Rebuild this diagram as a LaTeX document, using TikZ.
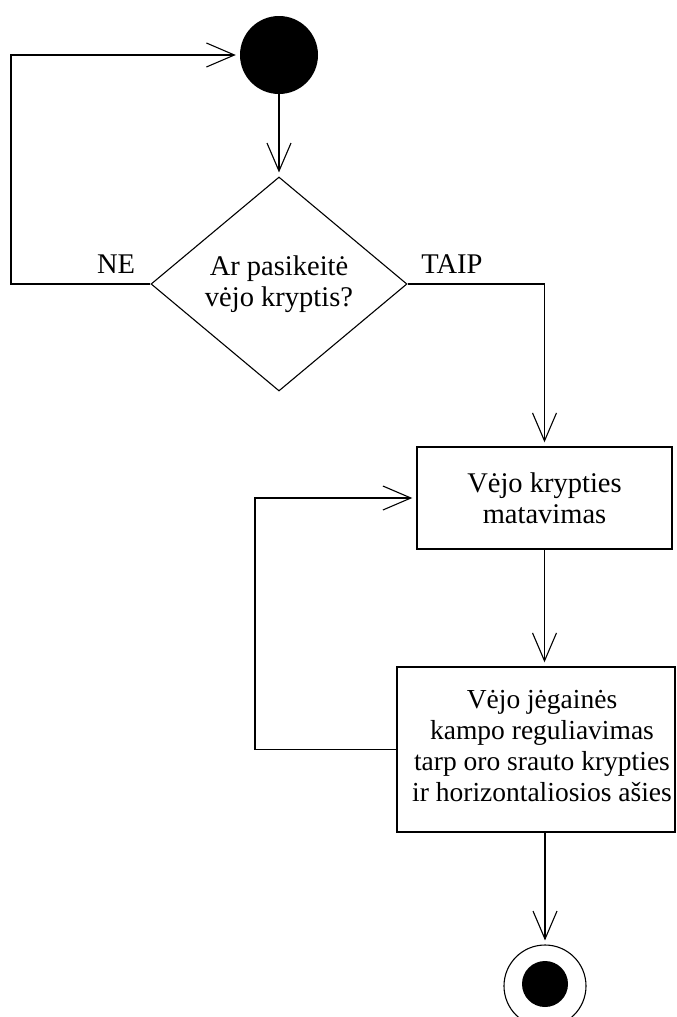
\documentclass[tikz,border=0pt]{standalone}
\usepackage{fontspec}
\setmainfont{Liberation Serif}
\usetikzlibrary{arrows.meta,shapes.geometric}

\begin{document}
\begin{tikzpicture}[x=1pt,y=-1pt,
  every node/.style={font=\fontsize{28.5}{31}\selectfont},
  flow/.style={line width=1.4pt,
    -{Straight Barb[length=28pt,width=24pt,line width=1.1pt]},
    shorten >=4pt},
  box/.style={draw, line width=1.4pt, inner sep=0pt, align=center},
  lbl/.style={anchor=base, inner sep=0pt}]

% page frame
\fill[white] (0,0) rectangle (677,1017);
\useasboundingbox (0,0) rectangle (677,1017);

% start state
\node[circle, fill=black, minimum size=78pt, inner sep=0pt] (start) at (279,55) {};

% decision
\node[diamond, draw, line width=1.1pt, minimum width=256pt, minimum height=214pt,
      inner sep=0pt, align=center] (dec) at (279,284) {Ar pasikeitė\\vėjo kryptis?};

% activities
\node[box, minimum width=255pt, minimum height=102pt] (meas) at (544.5,498)
  {Vėjo krypties\\matavimas};
\node[box, minimum width=278pt, minimum height=165pt] (ctrl) at (536,749.5) {};
\node[align=center, inner sep=0pt, font=\fontsize{27.5}{31}\selectfont] (ctrltext) at (542,746)
  {Vėjo jėgainės\\kampo reguliavimas\\tarp oro srauto krypties\\ir horizontaliosios ašies};

% final state
\node[circle, draw, line width=1.1pt, minimum size=82pt, inner sep=0pt] (end) at (545,986) {};
\node[circle, fill=black, minimum size=46pt, inner sep=0pt] (endin) at (545,984) {};

% guard labels
\node[lbl] (ne) at (116,273) {NE};
\node[lbl] (taip) at (452,273) {TAIP};

% bend points of the loops
\coordinate (nebend) at (11,284);
\coordinate (loopx) at (255,749.5);

% connectors
\draw[flow] (start) -- (dec);
\draw[flow] (dec.west) -- (nebend) |- (start.west);
\draw[flow] (dec.east) -| (meas.north);
\draw[flow] (meas.south) -- (meas.south |- ctrl.north);
\draw[flow] (ctrl.west) -- (loopx) |- (meas.west);
\draw[flow] (end |- ctrl.south) -- (end);
\end{tikzpicture}
\end{document}
